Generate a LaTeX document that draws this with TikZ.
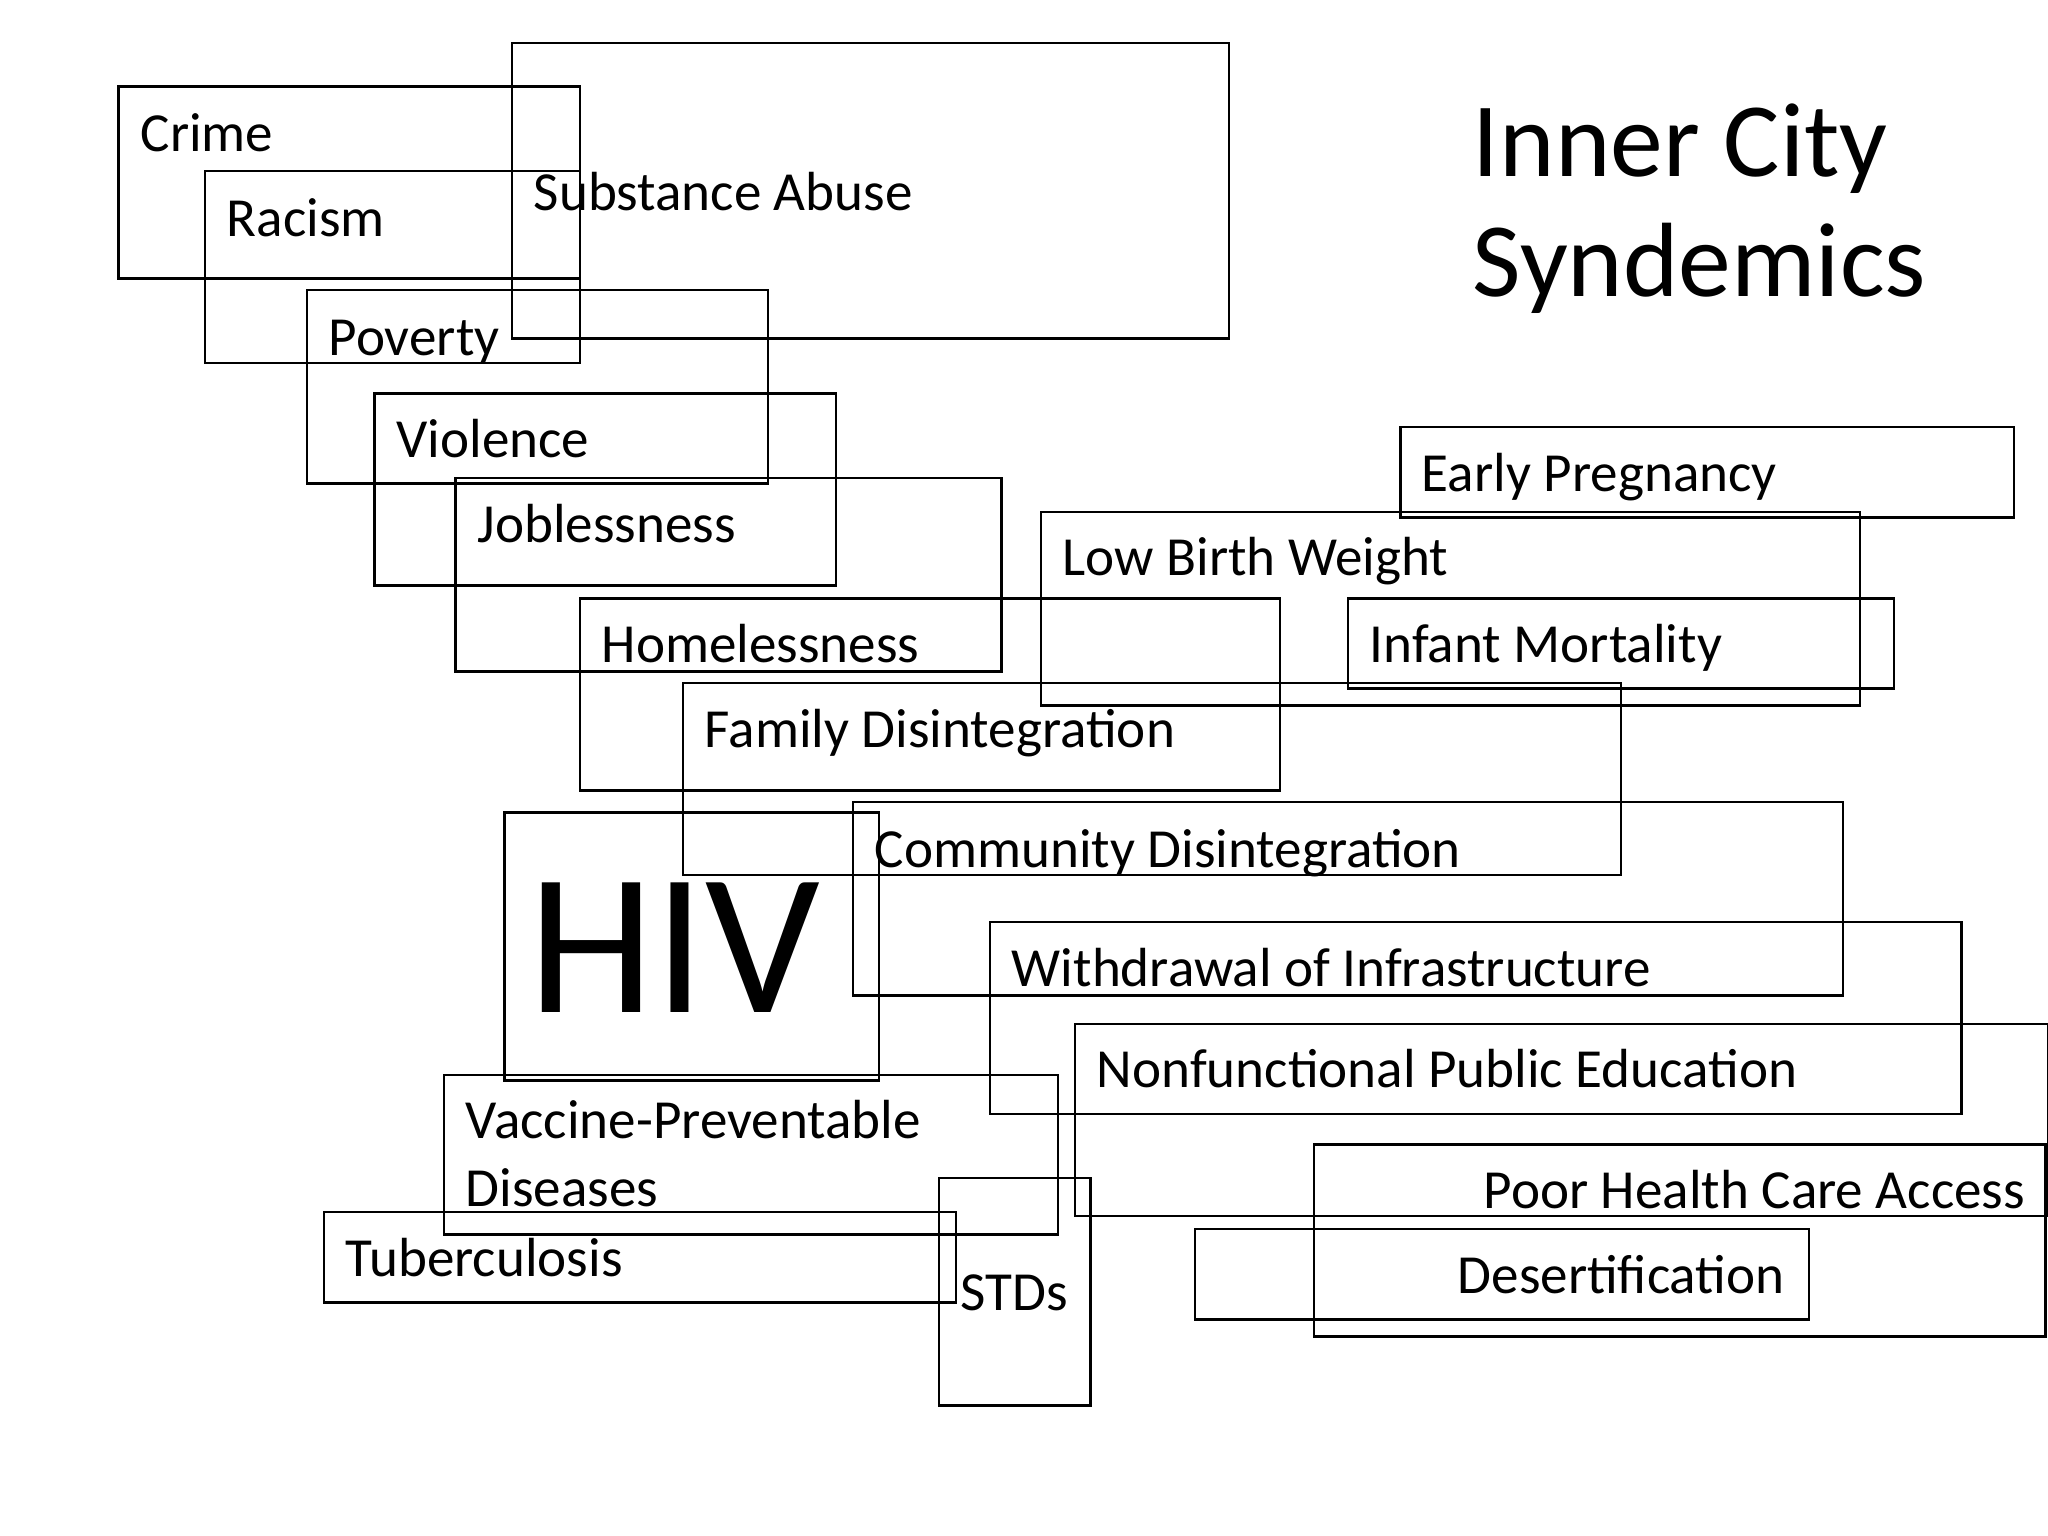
\documentclass[tikz,border=0pt]{standalone}
\usepackage{fontspec}
\setmainfont{Carlito}
\begin{document}
\begin{tikzpicture}[x=0.01cm,y=-0.01cm,
  bx/.style={draw=black,line width=0.6pt},
  lb/.style={anchor=base west,inner sep=0pt,font=\fontsize{12}{14}\selectfont},
  lbr/.style={anchor=base east,inner sep=0pt,font=\fontsize{12}{14}\selectfont}]
\useasboundingbox (0,0) rectangle (1568,1176);
\newcommand{\bxx}[7]{\draw[bx] (#1,#2) rectangle (#3,#4); \node[lb] (#7) at (#1+16,#5) {#6};}
\bxx{91}{66}{444}{213}{116}{Crime}{crime}
\bxx{157}{131}{444}{278}{181}{Racism}{racism}
\bxx{392}{33}{941}{259}{161}{Substance Abuse}{subst}
\bxx{235}{222}{588}{370}{272}{Poverty}{pov}
\bxx{287}{301}{640}{448}{350}{Violence}{viol}
\bxx{349}{366}{767}{514}{415}{Joblessness}{job}
\bxx{444}{458}{980}{605}{507}{Homelessness}{home}
\bxx{523}{523}{1241}{670}{572}{Family Disintegration}{fam}
\bxx{653}{614}{1411}{762}{664}{Community Disintegration}{comm}
\bxx{758}{706}{1502}{853}{755}{Withdrawal of Infrastructure}{with}
\bxx{823}{784}{1568}{931}{833}{Nonfunctional Public Education}{nonf}
\bxx{1072}{327}{1542}{396}{376}{Early Pregnancy}{early}
\bxx{797}{392}{1424}{540}{441}{Low Birth Weight}{low}
\bxx{1032}{458}{1450}{527}{507}{Infant Mortality}{inf}
\bxx{248}{928}{732}{997}{977}{Tuberculosis}{tb}
\bxx{719}{902}{835}{1076}{1003}{STDs}{std}
\draw[bx] (1006,876) rectangle (1566,1023);
\node[lbr] (poor) at (1551,925) {Poor Health Care Access};
\draw[bx] (915,941) rectangle (1385,1010);
\node[lbr] (des) at (1367,990) {Desertification};
\draw[bx] (340,823) rectangle (810,945);
\node[lb] (vac1) at (356,872) {Vaccine-Preventable};
\node[lb] (vac2) at (356,924) {Diseases};
\draw[bx] (386,622) rectangle (673,827);
\node[anchor=base west,inner sep=0pt,font=\fontsize{44}{50}\selectfont] (hiv) at (404,775) {HIV};
\node[anchor=base west,inner sep=0pt,font=\fontsize{23}{27}\selectfont] (t1) at (1127,135) {Inner City};
\node[anchor=base west,inner sep=0pt,font=\fontsize{23}{27}\selectfont] (t2) at (1127,227) {Syndemics};
\end{tikzpicture}
\end{document}
